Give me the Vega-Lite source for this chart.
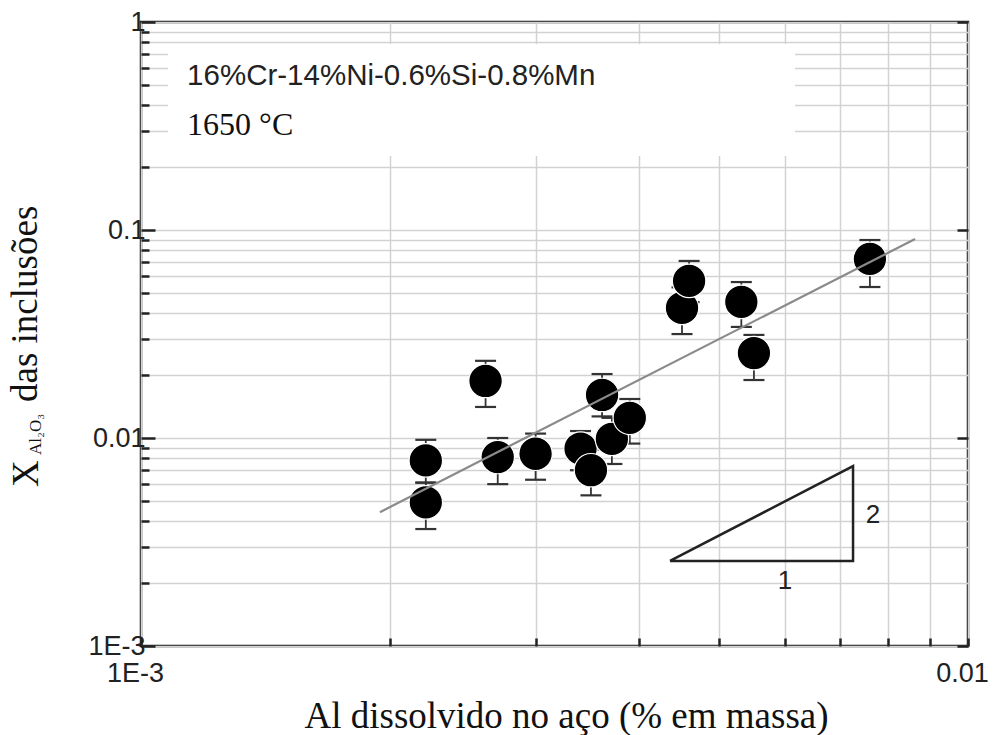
{
  "$schema": "https://vega.github.io/schema/vega-lite/v6.json",
  "width": 827,
  "height": 624,
  "autosize": "none",
  "padding": {"left": 141, "top": 22, "right": 26, "bottom": 89},
  "background": "white",
  "config": {
    "view": {"stroke": "#1a1a1a", "strokeWidth": 2.5},
    "text": {"color": "#111"}
  },
  "datasets": {
    "points": [
      {"al": 0.00221, "xal2o3": 0.0078, "lo": 0.0061, "hi": 0.0098},
      {"al": 0.00221, "xal2o3": 0.0049, "lo": 0.00365, "hi": 0.0061},
      {"al": 0.00261, "xal2o3": 0.0188, "lo": 0.0141, "hi": 0.0235},
      {"al": 0.0027, "xal2o3": 0.0081, "lo": 0.006, "hi": 0.01},
      {"al": 0.003, "xal2o3": 0.0084, "lo": 0.0063, "hi": 0.0105},
      {"al": 0.0034, "xal2o3": 0.0089, "lo": 0.007, "hi": 0.0108},
      {"al": 0.0035, "xal2o3": 0.007, "lo": 0.0053, "hi": 0.0088},
      {"al": 0.00361, "xal2o3": 0.0161, "lo": 0.0127, "hi": 0.0203},
      {"al": 0.00371, "xal2o3": 0.0099, "lo": 0.0075, "hi": 0.0125},
      {"al": 0.0039, "xal2o3": 0.0125, "lo": 0.0094, "hi": 0.0154},
      {"al": 0.00451, "xal2o3": 0.0422, "lo": 0.0316, "hi": 0.053},
      {"al": 0.0046, "xal2o3": 0.0569, "lo": 0.045, "hi": 0.071},
      {"al": 0.00532, "xal2o3": 0.0451, "lo": 0.0342, "hi": 0.0562},
      {"al": 0.00551, "xal2o3": 0.0256, "lo": 0.019, "hi": 0.0313},
      {"al": 0.00761, "xal2o3": 0.0726, "lo": 0.0532, "hi": 0.0895}
    ],
    "fit": [
      {"al": 0.001945, "xal2o3": 0.0044},
      {"al": 0.00863, "xal2o3": 0.0905}
    ],
    "slope": [
      {"i": 0, "al": 0.004362, "xal2o3": 0.002564},
      {"i": 1, "al": 0.007261, "xal2o3": 0.002564},
      {"i": 2, "al": 0.007261, "xal2o3": 0.00733},
      {"i": 3, "al": 0.004362, "xal2o3": 0.002564}
    ],
    "slopeLabels": [
      {"label": "1", "al": 0.006008, "xal2o3": 0.002054},
      {"label": "2", "al": 0.007676, "xal2o3": 0.004266}
    ],
    "box": [{"x1": 0.001078, "x2": 0.006177, "y1": 0.227, "y2": 0.7838}],
    "alloy": [{"label": "16%Cr-14%Ni-0.6%Si-0.8%Mn", "al": 0.001137, "xal2o3": 0.498}],
    "temp": [{"label": "1650 °C", "al": 0.001137, "xal2o3": 0.2862}],
    "ytitle": [
      {"label": "X", "al": 0.0007509, "xal2o3": 0.005813},
      {"label": "das inclusões", "al": 0.0007483, "xal2o3": 0.0149}
    ],
    "ytitleSub": [{"label": "Al₂O₃", "al": 0.0007569, "xal2o3": 0.00829}]
  },
  "layer": [
    {
      "data": {"name": "box"},
      "mark": {"type": "rect", "fill": "white", "stroke": null},
      "encoding": {
        "x": {"field": "x1", "type": "quantitative", "scale": {"type": "log", "domain": [0.001, 0.01]}, "axis": null},
        "x2": {"field": "x2"},
        "y": {"field": "y1", "type": "quantitative", "scale": {"type": "log", "domain": [0.001, 1]}, "axis": null},
        "y2": {"field": "y2"}
      }
    },
    {
      "data": {"name": "slope"},
      "mark": {"type": "line", "color": "#222", "strokeWidth": 2.5},
      "encoding": {
        "x": {"field": "al", "type": "quantitative", "scale": {"type": "log", "domain": [0.001, 0.01]}, "axis": null},
        "y": {"field": "xal2o3", "type": "quantitative", "scale": {"type": "log", "domain": [0.001, 1]}, "axis": null},
        "order": {"field": "i", "type": "quantitative"}
      }
    },
    {
      "data": {"name": "slopeLabels"},
      "mark": {"type": "text", "font": "Liberation Sans", "fontSize": 26, "align": "center", "baseline": "middle", "color": "#222"},
      "encoding": {
        "x": {"field": "al", "type": "quantitative", "scale": {"type": "log", "domain": [0.001, 0.01]}, "axis": null},
        "y": {"field": "xal2o3", "type": "quantitative", "scale": {"type": "log", "domain": [0.001, 1]}, "axis": null},
        "text": {"field": "label"}
      }
    },
    {
      "data": {"name": "points"},
      "mark": {"type": "rule", "color": "#333", "strokeWidth": 1.8},
      "encoding": {
        "x": {"field": "al", "type": "quantitative", "scale": {"type": "log", "domain": [0.001, 0.01]}, "axis": null},
        "y": {"field": "lo", "type": "quantitative", "scale": {"type": "log", "domain": [0.001, 1]}, "axis": null},
        "y2": {"field": "hi"}
      }
    },
    {
      "data": {"name": "points"},
      "mark": {"type": "tick", "orient": "horizontal", "size": 21, "thickness": 2.2, "color": "#333", "opacity": 1},
      "encoding": {
        "x": {"field": "al", "type": "quantitative", "scale": {"type": "log", "domain": [0.001, 0.01]}, "axis": null},
        "y": {"field": "lo", "type": "quantitative", "scale": {"type": "log", "domain": [0.001, 1]}, "axis": null}
      }
    },
    {
      "data": {"name": "points"},
      "mark": {"type": "tick", "orient": "horizontal", "size": 21, "thickness": 2.2, "color": "#333", "opacity": 1},
      "encoding": {
        "x": {"field": "al", "type": "quantitative", "scale": {"type": "log", "domain": [0.001, 0.01]}, "axis": null},
        "y": {"field": "hi", "type": "quantitative", "scale": {"type": "log", "domain": [0.001, 1]}, "axis": null}
      }
    },
    {
      "data": {"name": "points"},
      "mark": {"type": "circle", "size": 1120, "color": "black", "opacity": 1, "stroke": "white", "strokeWidth": 1.2},
      "encoding": {
        "x": {"field": "al", "type": "quantitative", "scale": {"type": "log", "domain": [0.001, 0.01]},
          "axis": {
            "orient": "bottom",
            "values": [0.001, 0.002, 0.003, 0.004, 0.005, 0.006, 0.007, 0.008, 0.009, 0.01],
            "labelExpr": "abs(datum.value - 0.001) < 1e-9 ? '1E-3' : (abs(datum.value - 0.01) < 1e-9 ? '0.01' : '')",
            "grid": true, "gridColor": "#d2d2d2", "gridWidth": 1.5,
            "domain": false,
            "ticks": true, "tickSize": -8, "tickWidth": 2.5, "tickColor": "#222",
            "labelFont": "Liberation Sans", "labelFontSize": 27, "labelColor": "#222",
            "labelPadding": 22, "labelOffset": -6, "labelOverlap": false, "labelFlush": false, "labelBound": false,
            "title": "Al dissolvido no aço (% em massa)",
            "titleFont": "Liberation Serif", "titleFontSize": 37, "titleFontWeight": "normal", "titleColor": "#111",
            "titleX": 425, "titleY": 81, "titleBaseline": "alphabetic", "titleAlign": "center"
          }},
        "y": {"field": "xal2o3", "type": "quantitative", "scale": {"type": "log", "domain": [0.001, 1]},
          "axis": {
            "orient": "left",
            "values": [0.001, 0.002, 0.003, 0.004, 0.005, 0.006, 0.007, 0.008, 0.009,
                       0.01, 0.02, 0.03, 0.04, 0.05, 0.06, 0.07, 0.08, 0.09,
                       0.1, 0.2, 0.3, 0.4, 0.5, 0.6, 0.7, 0.8, 0.9, 1],
            "labelExpr": "abs(datum.value - 1) < 1e-9 ? '1' : (abs(datum.value - 0.1) < 1e-9 ? '0.1' : (abs(datum.value - 0.01) < 1e-10 ? '0.01' : (abs(datum.value - 0.001) < 1e-11 ? '1E-3' : '')))",
            "grid": true, "gridColor": "#d2d2d2", "gridWidth": 1.5,
            "domain": false,
            "ticks": true,
            "tickSize": {"condition": {"test": "abs(log(datum.value) / LN10 - round(log(datum.value) / LN10)) < 1e-6", "value": -14}, "value": -8},
            "tickWidth": 2.5, "tickColor": "#222",
            "labelFont": "Liberation Sans", "labelFontSize": 27, "labelColor": "#222",
            "labelPadding": 10, "labelOverlap": false, "labelFlush": false, "labelBound": false,
            "title": null
          }}
      }
    },
    {
      "data": {"name": "fit"},
      "mark": {"type": "line", "color": "#8a8a8a", "strokeWidth": 2.2},
      "encoding": {
        "x": {"field": "al", "type": "quantitative", "scale": {"type": "log", "domain": [0.001, 0.01]},
          "axis": {"orient": "top", "values": [0.001, 0.002, 0.003, 0.004, 0.005, 0.006, 0.007, 0.008, 0.009, 0.01],
            "labels": false, "grid": false, "domain": false, "ticks": false, "title": null}},
        "y": {"field": "xal2o3", "type": "quantitative", "scale": {"type": "log", "domain": [0.001, 1]},
          "axis": {"orient": "right", "values": [0.001, 0.01, 0.1, 1], "labels": false, "grid": false, "domain": false,
            "ticks": true, "tickSize": -11, "tickWidth": 2.5, "tickColor": "#222", "title": null}}
      }
    },
    {
      "data": {"name": "alloy"},
      "mark": {"type": "text", "font": "Liberation Sans", "fontSize": 29.5, "align": "left", "baseline": "alphabetic", "color": "#222"},
      "encoding": {
        "x": {"field": "al", "type": "quantitative", "scale": {"type": "log", "domain": [0.001, 0.01]}, "axis": null},
        "y": {"field": "xal2o3", "type": "quantitative", "scale": {"type": "log", "domain": [0.001, 1]}, "axis": null},
        "text": {"field": "label"}
      }
    },
    {
      "data": {"name": "temp"},
      "mark": {"type": "text", "font": "Liberation Serif", "fontSize": 32, "align": "left", "baseline": "alphabetic", "color": "#111"},
      "encoding": {
        "x": {"field": "al", "type": "quantitative", "scale": {"type": "log", "domain": [0.001, 0.01]}, "axis": null},
        "y": {"field": "xal2o3", "type": "quantitative", "scale": {"type": "log", "domain": [0.001, 1]}, "axis": null},
        "text": {"field": "label"}
      }
    },
    {
      "data": {"name": "ytitle"},
      "mark": {"type": "text", "font": "Liberation Serif", "fontSize": 37, "angle": 270, "align": "left", "baseline": "alphabetic", "color": "#111"},
      "encoding": {
        "x": {"field": "al", "type": "quantitative", "scale": {"type": "log", "domain": [0.001, 0.01]}, "axis": null},
        "y": {"field": "xal2o3", "type": "quantitative", "scale": {"type": "log", "domain": [0.001, 1]}, "axis": null},
        "text": {"field": "label"}
      }
    },
    {
      "data": {"name": "ytitleSub"},
      "mark": {"type": "text", "font": "Liberation Serif", "fontSize": 17, "angle": 270, "align": "left", "baseline": "alphabetic", "color": "#111"},
      "encoding": {
        "x": {"field": "al", "type": "quantitative", "scale": {"type": "log", "domain": [0.001, 0.01]}, "axis": null},
        "y": {"field": "xal2o3", "type": "quantitative", "scale": {"type": "log", "domain": [0.001, 1]}, "axis": null},
        "text": {"field": "label"}
      }
    }
  ],
  "resolve": {"axis": {"x": "independent", "y": "independent"}}
}
